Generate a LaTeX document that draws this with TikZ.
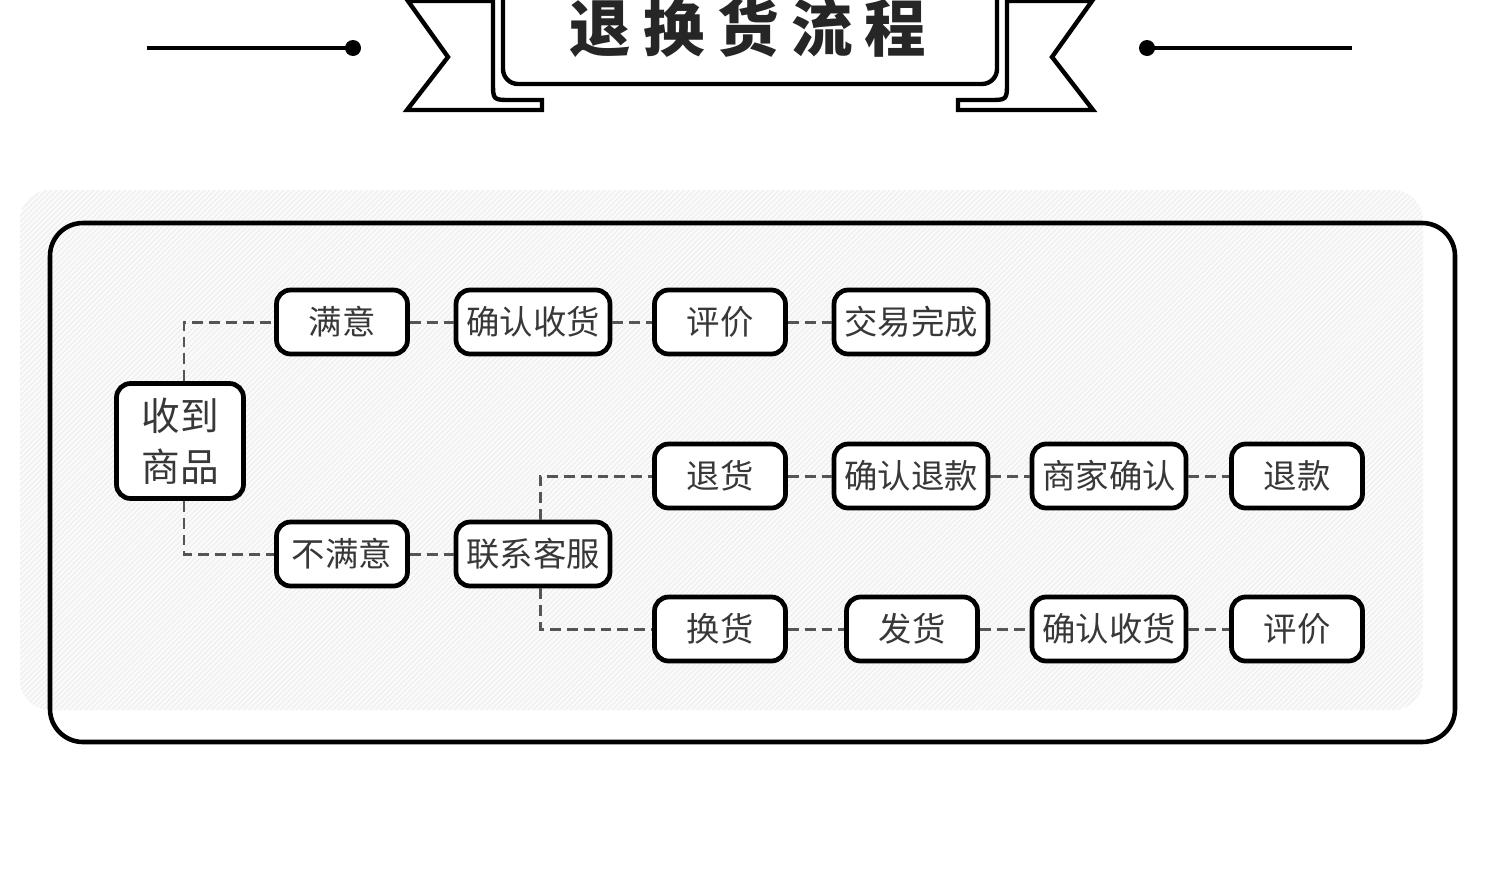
\documentclass[tikz,border=0pt]{standalone}
\usepackage{fontspec}
\setmainfont{Noto Sans CJK SC}
\usetikzlibrary{positioning,patterns}
\definecolor{txtgray}{HTML}{383838}
\definecolor{dashgray}{HTML}{555555}

\begin{document}
\begin{tikzpicture}[x=0.02cm,y=-0.02cm,
  stepbox/.style={draw,line width=2.7pt,rounded corners=8pt,fill=white,inner sep=0pt,
    minimum height=1.28cm,font=\fontsize{19}{22}\selectfont,text=txtgray},
  shortbox/.style={stepbox,minimum width=2.62cm},
  longbox/.style={stepbox,minimum width=3.08cm},
  link/.style={draw=dashgray,line width=1.7pt,dash pattern=on 6.2pt off 3.4pt},
  ribbon/.style={draw,line width=2.5pt,fill=white,line join=miter}]
  \useasboundingbox (0,0) rectangle (1500,869);

  % title banner
  \draw[line width=2.3pt] (147,48) -- (352,48);     %left rule
  \fill (353,48) circle (0.16cm);
  \draw[line width=2.3pt] (1147,48) -- (1352,48);   %right rule
  \fill (1147,48) circle (0.16cm);
  \filldraw[ribbon] (408,1) -- (448,57) -- (407,110) -- (542,110) -- (542,100) -- (511,100)
    .. controls (493,100) .. (493,82) -- (493,1) -- cycle;          %left tail
  \filldraw[ribbon] (1092,1) -- (1052,57) -- (1093,110) -- (958,110) -- (958,100) -- (989,100)
    .. controls (1007,100) .. (1007,82) -- (1007,1) -- cycle;       %right tail
  \filldraw[ribbon,rounded corners=0.3cm] (503,-40) rectangle (997,84); %banner
  \node[anchor=base,text=black!85,font=\fontsize{35}{40}\selectfont\bfseries] (title) at (748,51)
    {退\hspace{7pt}换\hspace{7pt}货\hspace{7pt}流\hspace{7pt}程};

  % striped panel and frame
  \fill[black!2,rounded corners=0.6cm] (20,190) rectangle (1423,710);
  \fill[pattern=north east lines,pattern color=black!8,rounded corners=0.6cm] (20,190) rectangle (1423,710);
  \draw[line width=2.6pt,rounded corners=0.66cm] (50,223) rectangle (1455,742);

  % steps
  \node[stepbox,minimum width=2.54cm,minimum height=2.3cm,align=center,
    font=\fontsize{22}{29}\selectfont] (shoudao) at (180,441) {收到\\商品};
  \node[shortbox] (manyi)    at (342,322) {满意};
  \node[longbox]  (queren)   at (533,322) {确认收货};
  \node[shortbox] (pingjia)  at (720,322) {评价};
  \node[longbox]  (wancheng) at (911,322) {交易完成};

  \node[shortbox] (bumanyi)  at (342,554) {不满意};
  \node[longbox]  (kefu)     at (533,554) {联系客服};

  \node[shortbox] (tuihuo)   at (720,476) {退货};
  \node[longbox]  (querentk) at (911,476) {确认退款};
  \node[longbox]  (shangjia) at (1109,476) {商家确认};
  \node[shortbox] (tuikuan)  at (1297,476) {退款};

  \node[shortbox] (huanhuo)  at (720,629) {换货};
  \node[shortbox] (fahuo)    at (912,629) {发货};
  \node[longbox]  (querensh) at (1109,629) {确认收货};
  \node[shortbox] (pingjiab) at (1297,629) {评价};

  % dashed links
  \draw[link] ([xshift=0.08cm]shoudao.north) |- (manyi);
  \draw[link] ([xshift=0.08cm]shoudao.south) |- (bumanyi);
  \draw[link] (manyi) -- (queren);
  \draw[link] (queren) -- (pingjia);
  \draw[link] (pingjia) -- (wancheng);
  \draw[link] (bumanyi) -- (kefu);
  \draw[link] ([xshift=0.14cm]kefu.north) |- (tuihuo);
  \draw[link] ([xshift=0.14cm]kefu.south) |- (huanhuo);
  \draw[link] (tuihuo) -- (querentk);
  \draw[link] (querentk) -- (shangjia);
  \draw[link] (shangjia) -- (tuikuan);
  \draw[link] (huanhuo) -- (fahuo);
  \draw[link] (fahuo) -- (querensh);
  \draw[link] (querensh) -- (pingjiab);
\end{tikzpicture}
\end{document}
